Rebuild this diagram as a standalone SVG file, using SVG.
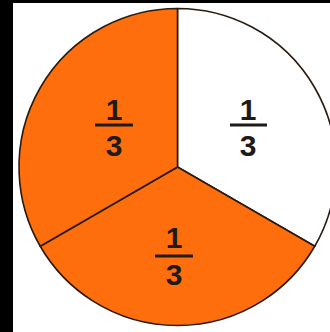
<svg xmlns="http://www.w3.org/2000/svg" width="330" height="332" viewBox="0 0 330 332">
<style>
.sec{stroke:#2b1a10;stroke-width:1.6;stroke-linejoin:round}
.or{fill:#ff6e0c}
.wh{fill:#ffffff}
.num{font-family:"Liberation Sans",Arial,sans-serif;font-weight:bold;font-size:30px;fill:#1e1a18;text-anchor:middle}
.bar{stroke:#1e1a18;stroke-width:3}
</style>
<rect x="0" y="0" width="330" height="332" fill="#000"/>
<rect x="13" y="3" width="317" height="329" fill="#fff"/>
<g id="sector-white">
<path class="sec wh" d="M177.5,167 L177.5,8.5 A158.5,158.5 0 0 1 314.76,246.25 Z"/>
<text class="num" x="248" y="120">1</text>
<line class="bar" x1="230" y1="125" x2="267" y2="125"/>
<text class="num" x="248" y="156">3</text>
</g>
<g id="sector-bottom">
<path class="sec or" d="M177.5,167 L314.76,246.25 A158.5,158.5 0 0 1 40.24,246.25 Z"/>
<text class="num" x="174" y="248">1</text>
<line class="bar" x1="155" y1="256" x2="193" y2="256"/>
<text class="num" x="174" y="285">3</text>
</g>
<g id="sector-left">
<path class="sec or" d="M177.5,167 L40.24,246.25 A158.5,158.5 0 0 1 177.5,8.5 Z"/>
<text class="num" x="114" y="120">1</text>
<line class="bar" x1="95" y1="125" x2="133" y2="125"/>
<text class="num" x="114" y="156">3</text>
</g>
</svg>
